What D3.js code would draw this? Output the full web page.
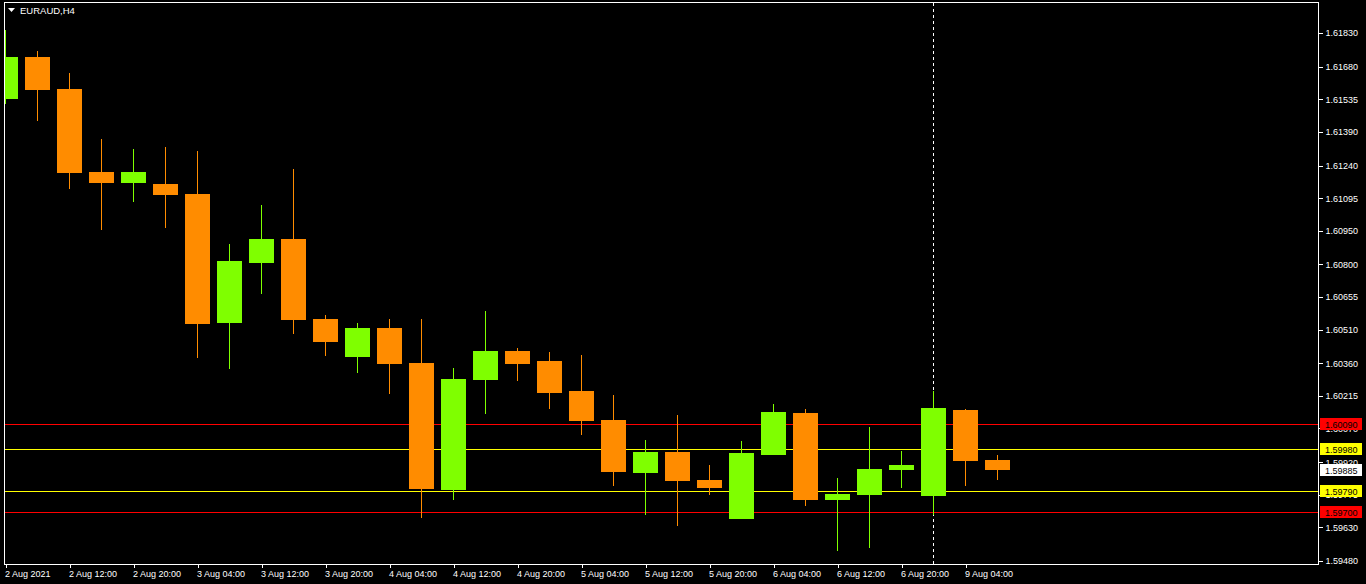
<!DOCTYPE html>
<html>
<head>
<meta charset="utf-8">
<script src="https://cdn.jsdelivr.net/npm/d3@7/dist/d3.min.js"></script>
<style>
  html, body { margin: 0; padding: 0; background: #000; }
  svg { display: block; }
  text { font-family: "Liberation Sans", Arial, sans-serif; }
  line, rect { shape-rendering: crispEdges; }
</style>
</head>
<body>
<svg id="chart" width="1366" height="584"></svg>
<script>
// ---------------- DATA ----------------
const title = "EURAUD,H4";
const times = [
  "2 Aug 04:00","2 Aug 08:00","2 Aug 12:00","2 Aug 16:00","2 Aug 20:00",
  "3 Aug 00:00","3 Aug 04:00","3 Aug 08:00","3 Aug 12:00","3 Aug 16:00","3 Aug 20:00",
  "4 Aug 00:00","4 Aug 04:00","4 Aug 08:00","4 Aug 12:00","4 Aug 16:00","4 Aug 20:00",
  "5 Aug 00:00","5 Aug 04:00","5 Aug 08:00","5 Aug 12:00","5 Aug 16:00","5 Aug 20:00",
  "6 Aug 00:00","6 Aug 04:00","6 Aug 08:00","6 Aug 12:00","6 Aug 16:00","6 Aug 20:00",
  "9 Aug 00:00","9 Aug 04:00","9 Aug 08:00"
];
const open  = [1.61536,1.61723,1.61581,1.61211,1.61162,1.61158,1.61114,1.60540,1.60807,1.60913,1.60557,
               1.60388,1.60517,1.60362,1.59796,1.60286,1.60415,1.60370,1.60237,1.60108,1.59872,1.59965,
               1.59841,1.59667,1.59952,1.60139,1.59752,1.59774,1.59885,1.59770,1.60152,1.59930];
const high  = [1.61843,1.61750,1.61652,1.61358,1.61314,1.61323,1.61305,1.60891,1.61065,1.61225,1.60575,
               1.60540,1.60557,1.60557,1.60339,1.60593,1.60428,1.60410,1.60397,1.60219,1.60019,1.60130,
               1.59908,1.60014,1.60179,1.60157,1.59850,1.60077,1.59970,1.60237,1.60157,1.59952];
const low   = [1.61514,1.61438,1.61136,1.60953,1.61078,1.60962,1.60384,1.60335,1.60669,1.60491,1.60393,
               1.60317,1.60224,1.59672,1.59752,1.60135,1.60281,1.60157,1.60041,1.59814,1.59685,1.59636,
               1.59774,1.59667,1.59952,1.59725,1.59525,1.59538,1.59805,1.59685,1.59814,1.59841];
const close = [1.61723,1.61576,1.61207,1.61162,1.61211,1.61109,1.60535,1.60815,1.60913,1.60553,1.60455,
               1.60517,1.60357,1.59801,1.60290,1.60415,1.60357,1.60228,1.60103,1.59876,1.59965,1.59836,
               1.59805,1.59961,1.60143,1.59752,1.59779,1.59890,1.59908,1.60161,1.59925,1.59885];

const xTickTimes  = ["2 Aug 04:00","2 Aug 12:00","2 Aug 20:00","3 Aug 04:00","3 Aug 12:00","3 Aug 20:00",
                     "4 Aug 04:00","4 Aug 12:00","4 Aug 20:00","5 Aug 04:00","5 Aug 12:00","5 Aug 20:00",
                     "6 Aug 04:00","6 Aug 12:00","6 Aug 20:00","9 Aug 04:00"];
const xTickLabels = ["2 Aug 2021","2 Aug 12:00","2 Aug 20:00","3 Aug 04:00","3 Aug 12:00","3 Aug 20:00",
                     "4 Aug 04:00","4 Aug 12:00","4 Aug 20:00","5 Aug 04:00","5 Aug 12:00","5 Aug 20:00",
                     "6 Aug 04:00","6 Aug 12:00","6 Aug 20:00","9 Aug 04:00"];
const yTickValues = [1.61830,1.61680,1.61535,1.61390,1.61240,1.61095,1.60950,1.60800,1.60655,
                     1.60510,1.60360,1.60215,1.60070,1.59920,1.59775,1.59630,1.59480];
const levelPrices = [1.60090, 1.59980, 1.59790, 1.59700];
const levelKinds  = ["red", "yellow", "yellow", "red"];
const currentPrice = 1.59885;
const separatorTime = "9 Aug 00:00";

// ---------------- LAYOUT ----------------
const W = 1366, H = 584;
const frame = { left: 4, top: 2, right: 1318, bottom: 564 };
const colors = { up: "#7fff00", down: "#ff8c00", red: "#ff0000", yellow: "#ffff00", white: "#ffffff" };

const svg = d3.select("#chart");
svg.append("rect").attr("width", W).attr("height", H).attr("fill", "#000");

const x = d3.scalePoint().domain(times).range([5, 997]);
const y = d3.scaleLinear().domain([1.59480, 1.61830]).range([561, 33]);

const candles = times.map((t, i) => ({ t, o: open[i], h: high[i], l: low[i], c: close[i] }));

// clip
svg.append("clipPath").attr("id", "plotClip")
  .append("rect")
  .attr("x", frame.left + 1).attr("y", frame.top + 1)
  .attr("width", frame.right - frame.left - 1).attr("height", frame.bottom - frame.top - 1);

const plot = svg.append("g").attr("clip-path", "url(#plotClip)");

// level lines
plot.selectAll("line.level").data(levelPrices).join("line")
  .attr("class", "level")
  .attr("x1", frame.left).attr("x2", frame.right)
  .attr("y1", d => Math.round(y(d)) + 0.5).attr("y2", d => Math.round(y(d)) + 0.5)
  .attr("stroke", (d, i) => colors[levelKinds[i]]).attr("stroke-width", 1);

// separator dashed line
plot.append("line")
  .attr("x1", x(separatorTime) + 0.5).attr("x2", x(separatorTime) + 0.5)
  .attr("y1", frame.top + 1).attr("y2", frame.bottom)
  .attr("stroke", "#fff").attr("stroke-width", 1).attr("stroke-dasharray", "3,3");

// wicks
plot.selectAll("line.wick").data(candles).join("line")
  .attr("class", "wick")
  .attr("x1", d => x(d.t) + 0.5).attr("x2", d => x(d.t) + 0.5)
  .attr("y1", d => Math.round(y(d.h))).attr("y2", d => Math.round(y(d.l)))
  .attr("stroke", d => d.c >= d.o ? colors.up : colors.down).attr("stroke-width", 1);

// bodies
plot.selectAll("rect.body").data(candles).join("rect")
  .attr("class", "body")
  .attr("x", d => x(d.t) - 12)
  .attr("width", 25)
  .attr("y", d => Math.round(y(Math.max(d.o, d.c))))
  .attr("height", d => Math.max(1, Math.round(y(Math.min(d.o, d.c))) - Math.round(y(Math.max(d.o, d.c)))))
  .attr("fill", d => d.c >= d.o ? colors.up : colors.down);

// frame
svg.append("rect")
  .attr("x", frame.left + 0.5).attr("y", frame.top + 0.5)
  .attr("width", frame.right - frame.left).attr("height", frame.bottom - frame.top)
  .attr("fill", "none").attr("stroke", "#fff").attr("stroke-width", 1);

// y axis (right)
const yAxis = d3.axisRight(y).tickValues(yTickValues).tickFormat(d3.format(".5f"))
  .tickSize(4).tickPadding(3);
const gy = svg.append("g").attr("transform", `translate(${frame.right + 0.5},0)`).call(yAxis);
gy.select(".domain").remove();
gy.selectAll(".tick line").attr("stroke", "#fff");
gy.selectAll(".tick text").attr("fill", "#fff").style("font-size", "9px")
  .style("font-family", '"Liberation Sans", Arial, sans-serif');

// x axis (bottom)
const labelMap = new Map(xTickTimes.map((t, i) => [t, xTickLabels[i]]));
const xAxis = d3.axisBottom(x).tickValues(xTickTimes).tickFormat(d => labelMap.get(d))
  .tickSize(3).tickPadding(3);
const gx = svg.append("g").attr("transform", `translate(0.5,${frame.bottom + 0.5})`).call(xAxis);
gx.select(".domain").remove();
gx.selectAll(".tick line").attr("stroke", "#fff");
gx.selectAll(".tick text").attr("fill", "#fff").attr("text-anchor", "start").attr("x", -1)
  .style("font-size", "9px").style("font-family", '"Liberation Sans", Arial, sans-serif');

// price tags on the right axis
const tags = levelPrices.map((p, i) => ({ p, kind: levelKinds[i] }));
tags.push({ p: currentPrice, kind: "white" });
const tagG = svg.append("g").selectAll("g").data(tags).join("g")
  .attr("transform", d => `translate(1320,${Math.round(y(d.p)) - 6})`);
tagG.append("rect").attr("width", 42).attr("height", 12).attr("fill", d => colors[d.kind]);
tagG.append("text").attr("x", 5).attr("y", 9.5).attr("fill", "#000")
  .style("font-size", "9px").text(d => d3.format(".5f")(d.p));

// title
svg.append("path").attr("d", "M8,8 L15,8 L11.5,12 Z").attr("fill", "#fff");
svg.append("text").attr("x", 20).attr("y", 14).attr("fill", "#fff")
  .style("font-size", "9.5px").text(title);
</script>
</body>
</html>
